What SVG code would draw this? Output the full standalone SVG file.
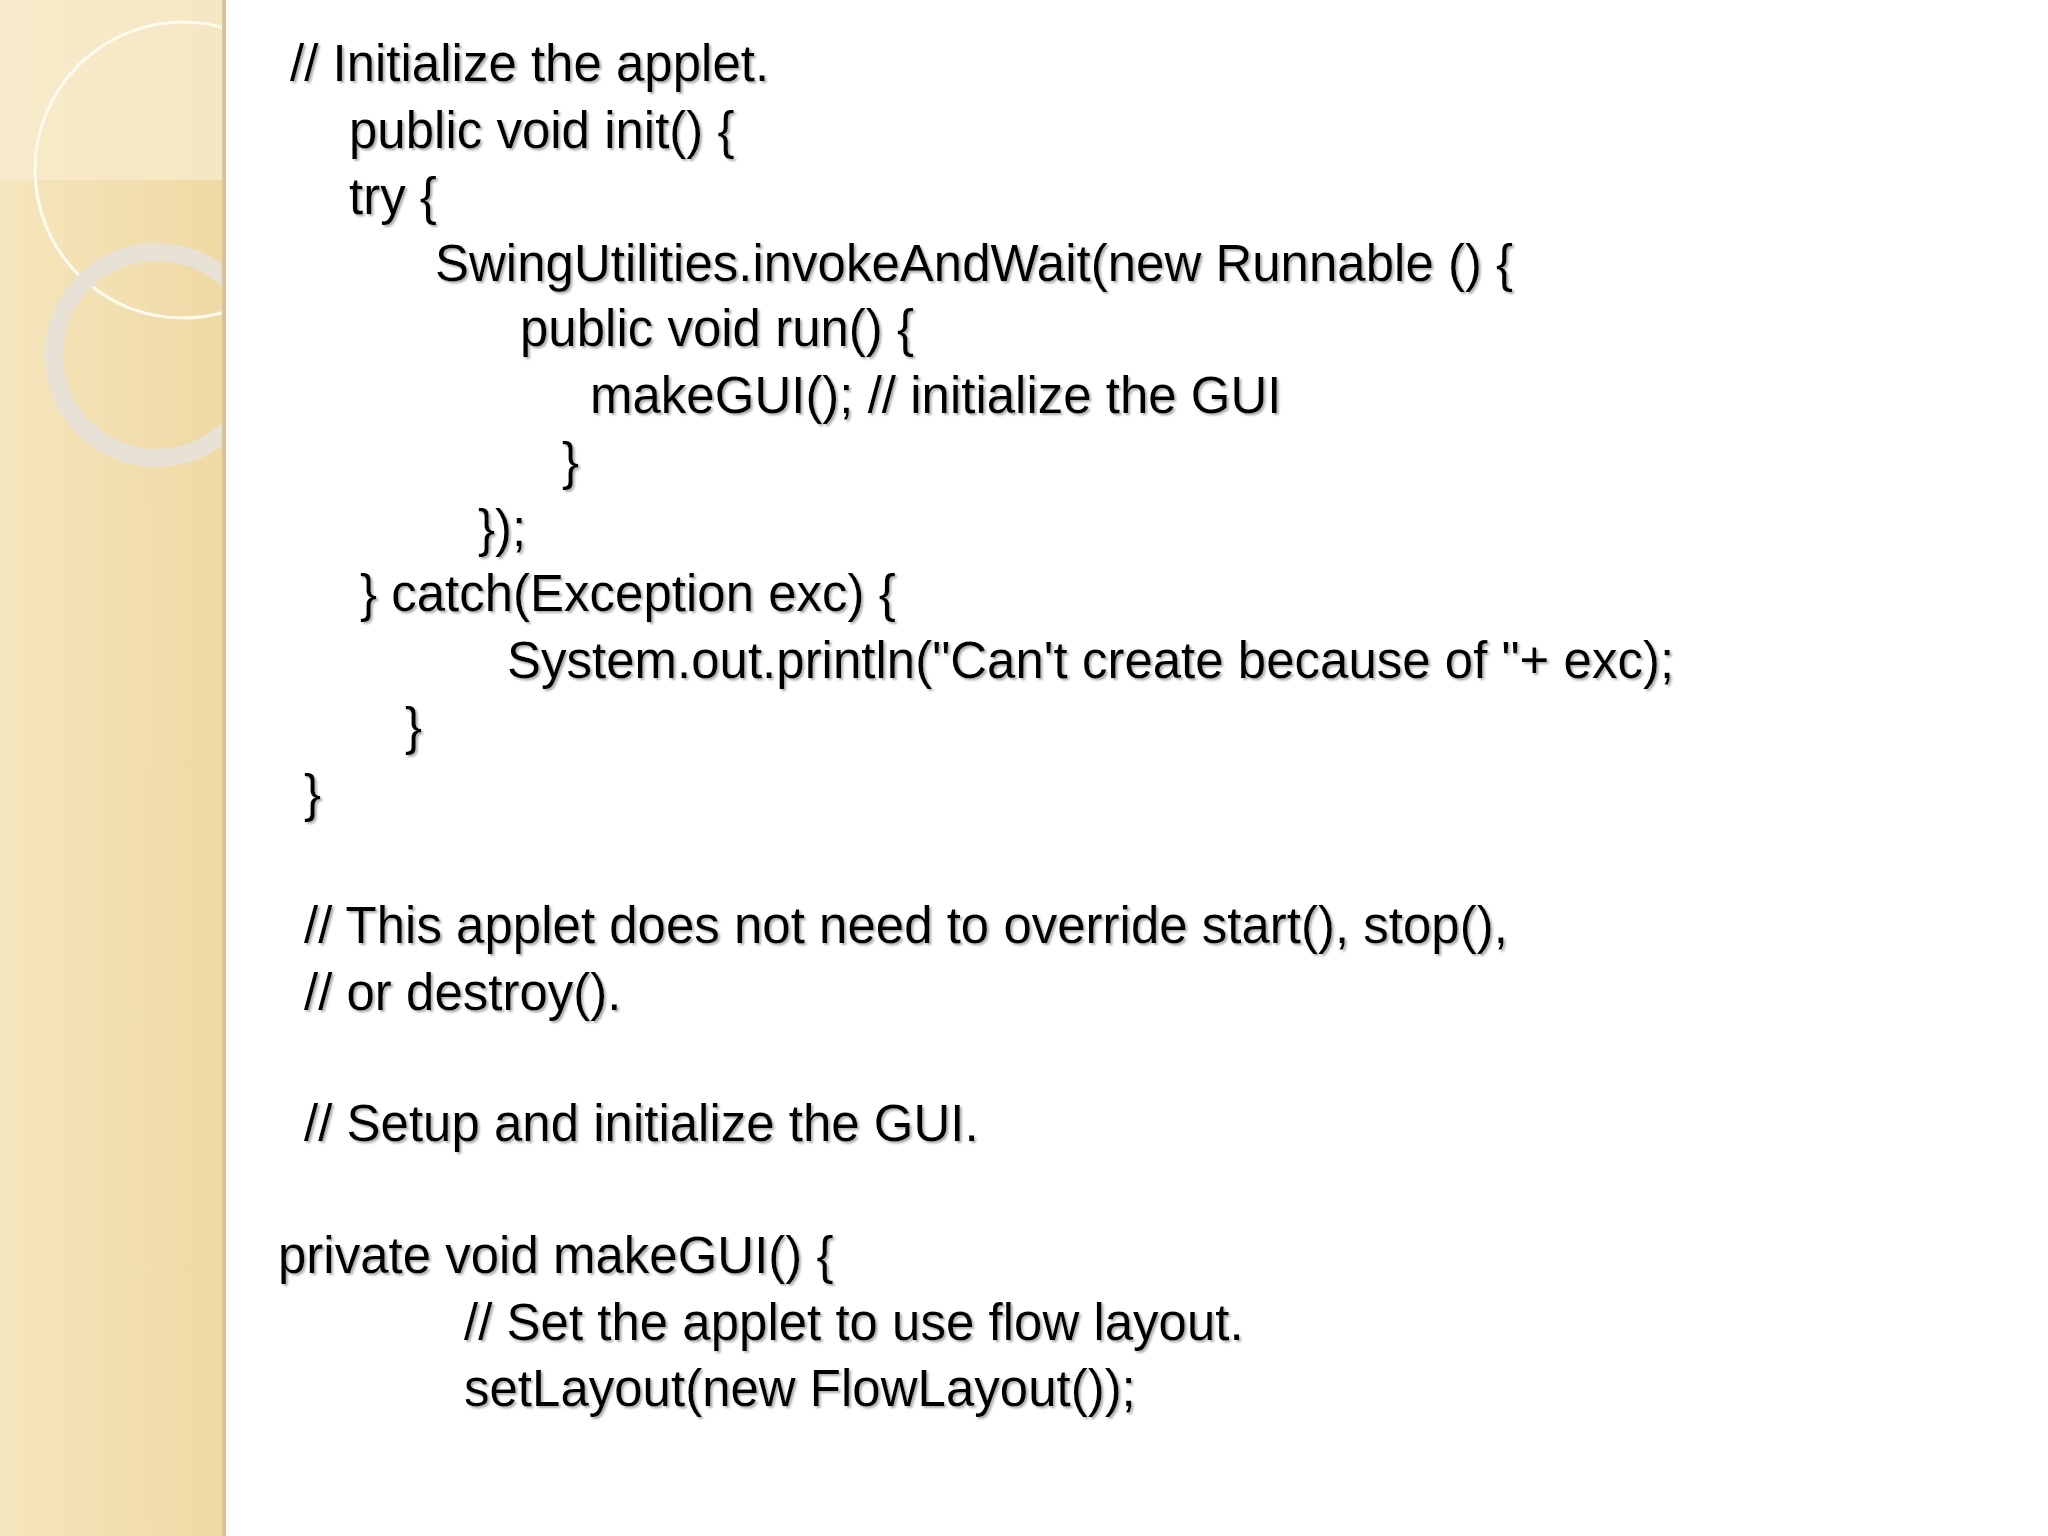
<svg xmlns="http://www.w3.org/2000/svg" width="2048" height="1536" viewBox="0 0 2048 1536">
<defs>
<linearGradient id="pg" x1="0" y1="0" x2="1" y2="0"><stop offset="0" stop-color="#f6e6bd"/><stop offset="1" stop-color="#efd9a4"/></linearGradient>
<clipPath id="cp"><rect x="0" y="0" width="226" height="1536"/></clipPath>
<filter id="sh" x="-5%" y="-20%" width="110%" height="140%"><feDropShadow dx="2" dy="2" stdDeviation="0.8" flood-color="#999" flood-opacity="0.8"/></filter>
<style>text{font-family:"Liberation Sans",Arial,sans-serif;font-size:51px;fill:#000}</style>
</defs>
<rect width="2048" height="1536" fill="#fff"/>
<g id="panel" clip-path="url(#cp)">
<rect x="0" y="0" width="226" height="1536" fill="url(#pg)"/>
<rect x="0" y="0" width="226" height="180" fill="#f8ecd0" opacity="0.7"/>
<circle cx="183" cy="170" r="148" fill="none" stroke="#fffaf0" stroke-width="3"/>
<circle cx="157" cy="355" r="103" fill="none" stroke="#e8e2d6" stroke-width="18"/>
<line x1="224" y1="0" x2="224" y2="1536" stroke="#d8c49a" stroke-width="4"/>
</g>
<g id="code" filter="url(#sh)">
<text x="290" y="81">// Initialize the applet.</text>
<text x="349" y="148">public void init() {</text>
<text x="349" y="214">try {</text>
<text x="435" y="281">SwingUtilities.invokeAndWait(new Runnable () {</text>
<text x="520" y="346">public void run() {</text>
<text x="590" y="413">makeGUI(); // initialize the GUI</text>
<text x="562" y="479">}</text>
<text x="478" y="546">});</text>
<text x="360" y="611">} catch(Exception exc) {</text>
<text x="507" y="678">System.out.println("Can't create because of "+ exc);</text>
<text x="405" y="744">}</text>
<text x="304" y="811">}</text>
<text x="304" y="943">// This applet does not need to override start(), stop(),</text>
<text x="304" y="1010">// or destroy().</text>
<text x="304" y="1141">// Setup and initialize the GUI.</text>
<text x="278" y="1273">private void makeGUI() {</text>
<text x="464" y="1340">// Set the applet to use flow layout.</text>
<text x="464" y="1406">setLayout(new FlowLayout());</text>
</g>
</svg>
